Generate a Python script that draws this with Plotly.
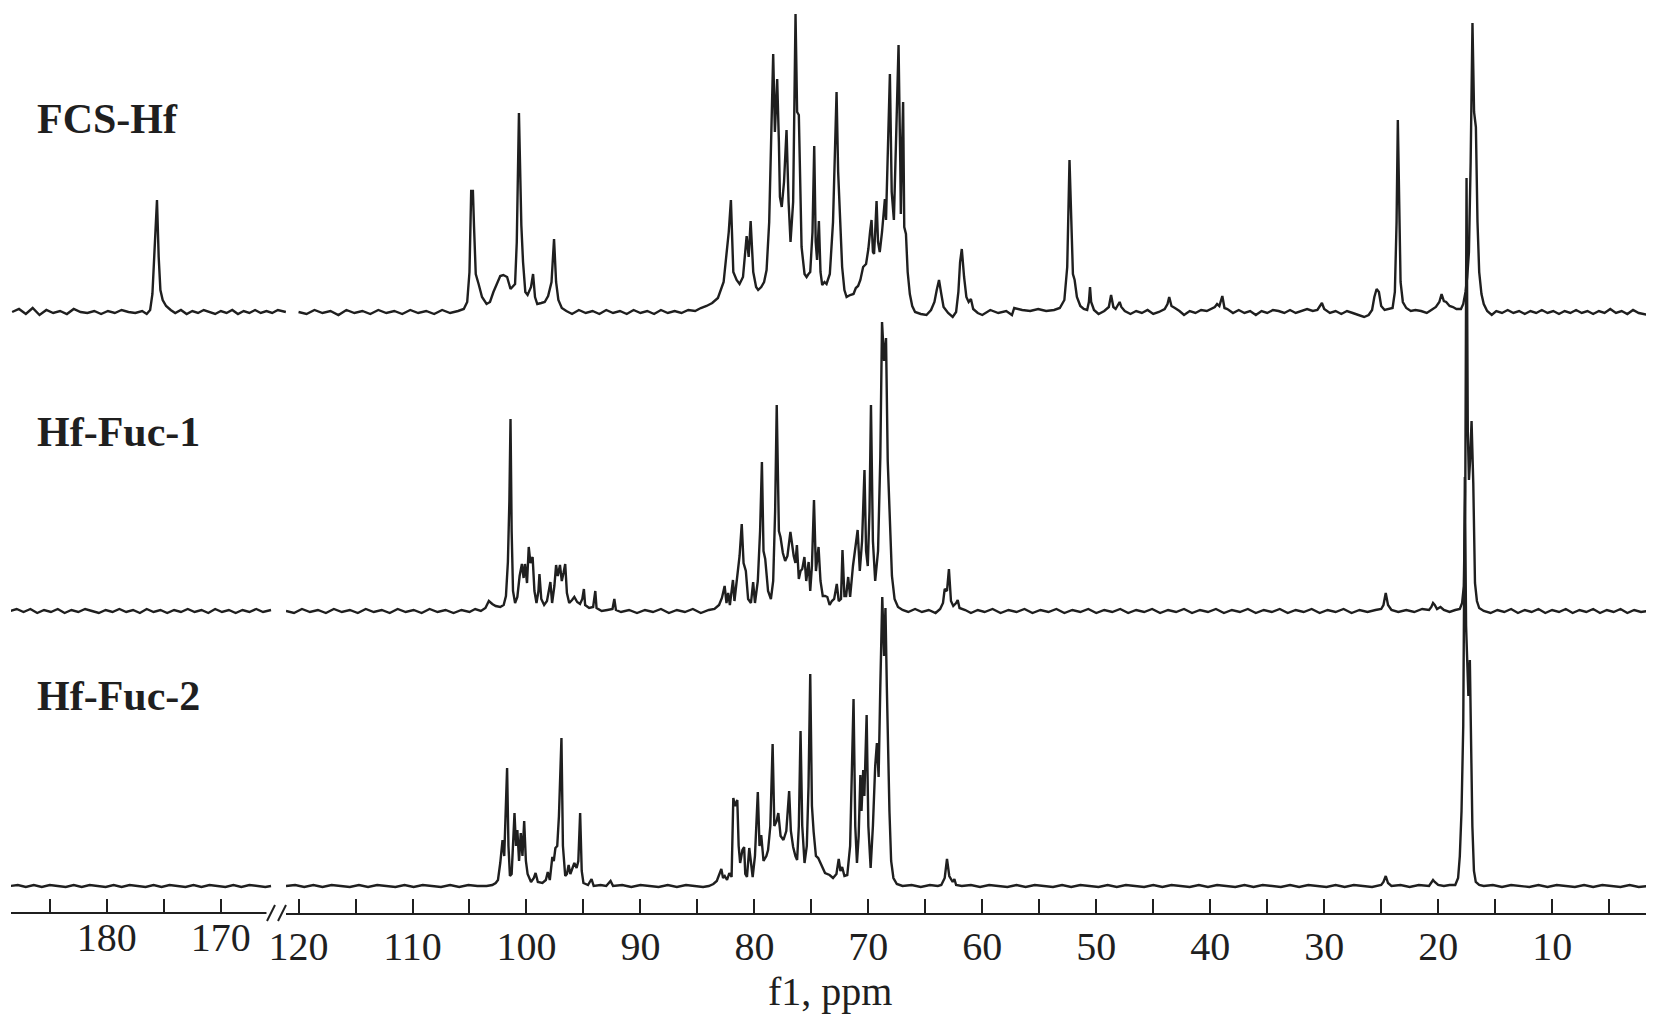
"""13C NMR spectra of FCS-Hf and its fucose fractions, broken ppm axis."""

import plotly.graph_objects as go

# peak/valley vertices: (ppm, intensity above baseline)
FCS_HF_LEFT = [
    (188.3, 0), (187.7, 3), (187.1, -2), (186.5, 4), (185.9, -3), (185.3, 2), (184.7, -1),
    (184.1, 1), (183.5, -2), (182.9, 3), (182.3, 0), (181.7, -1), (181.1, 1), (180.5, -2),
    (179.9, 1), (179.3, -1), (178.7, 2), (178.1, 0), (177.5, -1), (176.9, 1), (176.5, -2),
    (176.2, 2), (176.0, 18), (175.8, 70), (175.6, 112), (175.45, 55), (175.3, 22), (175.1, 12),
    (174.8, 6), (174.4, 2), (174.0, -1), (173.5, 2), (173.0, -2), (172.5, 1), (172.0, -1),
    (171.5, 2), (171.0, 0), (170.5, -2), (170.0, 1), (169.5, -1), (169.0, 2), (168.5, -2),
    (168.0, 1), (167.5, -1), (167.0, 2), (166.5, -1), (166.0, 1), (165.5, -1), (165.0, 2),
    (164.3, 0),
]
FCS_HF_RIGHT = [
    (120.0, 0), (119.3, -2), (118.6, 2), (117.9, -1), (117.2, 1), (116.5, -3), (115.8, 2),
    (115.1, -1), (114.4, 1), (113.7, -2), (113.0, 2), (112.3, -1), (111.6, 1), (110.9, -2),
    (110.2, 2), (109.5, -1), (108.8, 1), (108.1, -2), (107.4, 2), (106.7, -1), (106.0, 1),
    (105.5, 3), (105.2, 10), (105.0, 40), (104.85, 121), (104.7, 121), (104.6, 85),
    (104.45, 38), (104.2, 28), (103.9, 15), (103.5, 8), (103.2, 10), (102.9, 20), (102.6, 28),
    (102.3, 36), (102.03, 37), (101.7, 35), (101.4, 23), (101.2, 26), (101.0, 28),
    (100.85, 70), (100.66, 199), (100.45, 87), (100.3, 50), (100.1, 20), (99.9, 17),
    (99.6, 25), (99.42, 38), (99.25, 15), (99.05, 8), (98.7, 9), (98.4, 10), (98.1, 16),
    (97.8, 30), (97.58, 73), (97.4, 30), (97.2, 12), (96.9, 4), (96.5, 1), (96.0, -2),
    (95.4, 2), (94.8, -1), (94.2, 1), (93.6, -2), (93.0, 2), (92.4, -1), (91.8, 1),
    (91.2, -2), (90.6, 2), (90.0, -1), (89.4, 1), (88.8, -2), (88.2, 2), (87.6, -1),
    (87.0, 1), (86.4, -1), (85.8, 2), (85.2, 1), (84.7, 4), (84.2, 6), (83.7, 9), (83.2, 14),
    (82.7, 30), (82.25, 80), (82.06, 112), (81.85, 40), (81.56, 32), (81.3, 28), (81.0, 35),
    (80.8, 65), (80.68, 76), (80.5, 55), (80.33, 91), (80.1, 40), (79.85, 25), (79.67, 22),
    (79.4, 25), (79.15, 30), (78.93, 42), (78.7, 90), (78.5, 200), (78.35, 258), (78.2, 180),
    (78.0, 233), (77.85, 170), (77.76, 115), (77.6, 105), (77.4, 130), (77.18, 182),
    (77.0, 110), (76.83, 70), (76.6, 110), (76.39, 298), (76.25, 200), (76.1, 197),
    (76.0, 148), (75.86, 65), (75.6, 38), (75.42, 35), (75.25, 38), (75.1, 40), (74.9, 80),
    (74.75, 166), (74.62, 70), (74.5, 52), (74.34, 91), (74.2, 40), (74.05, 27), (73.85, 30),
    (73.67, 28), (73.5, 34), (73.38, 38), (73.1, 90), (72.9, 180), (72.79, 220), (72.65, 140),
    (72.5, 95), (72.3, 45), (72.1, 22), (71.91, 15), (71.6, 17), (71.3, 18), (71.1, 24),
    (70.9, 26), (70.7, 32), (70.46, 45), (70.2, 48), (70.0, 63), (69.85, 80), (69.72, 92),
    (69.6, 60), (69.5, 58), (69.4, 80), (69.28, 111), (69.15, 70), (69.0, 60), (68.8, 80),
    (68.65, 100), (68.55, 113), (68.45, 92), (68.3, 150), (68.11, 238), (67.95, 120),
    (67.76, 92), (67.55, 180), (67.35, 267), (67.2, 150), (67.15, 98), (67.05, 160),
    (66.95, 210), (66.85, 85), (66.7, 78), (66.55, 40), (66.36, 18), (66.15, 6), (65.9, 0),
    (65.4, -2), (64.9, -3), (64.5, 2), (64.2, 10), (64.0, 22), (63.8, 32), (63.6, 18),
    (63.4, 5), (63.0, -1), (62.6, -5), (62.3, 0), (62.1, 20), (61.95, 50), (61.8, 63),
    (61.6, 35), (61.4, 15), (61.2, 10), (61.0, 13), (60.8, 3), (60.4, -1), (60.0, -3),
    (59.3, 2), (58.6, -1), (57.9, 1), (57.4, -3), (57.2, 4), (56.5, 2), (55.8, 1), (55.1, 3),
    (54.4, 1), (53.7, 2), (53.2, 4), (52.8, 12), (52.55, 45), (52.35, 152), (52.2, 90),
    (52.05, 38), (51.9, 32), (51.7, 15), (51.4, 6), (51.1, 3), (50.8, 2), (50.65, 10),
    (50.55, 25), (50.45, 10), (50.2, 2), (49.8, -2), (49.3, 1), (48.9, 5), (48.7, 17),
    (48.5, 5), (48.3, 3), (47.95, 10), (47.8, 5), (47.5, 1), (47.0, -2), (46.5, 1),
    (46.0, -1), (45.5, 2), (45.0, -2), (44.5, 0), (44.0, 3), (43.75, 8), (43.6, 15),
    (43.4, 6), (43.1, 4), (42.7, 1), (42.3, -3), (41.8, 1), (41.3, -1), (40.8, 2), (40.3, 1),
    (39.9, 3), (39.6, 5), (39.4, 8), (39.2, 6), (38.94, 16), (38.75, 4), (38.5, 3),
    (38.0, -1), (37.5, 2), (37.0, -1), (36.5, 1), (36.0, -3), (35.5, 1), (35.0, -1),
    (34.5, 2), (34.0, 1), (33.5, -1), (33.0, 2), (32.5, -1), (32.0, 1), (31.5, 3), (31.0, 1),
    (30.6, 2), (30.2, 9), (30.0, 3), (29.5, -1), (29.0, 1), (28.5, -2), (28.0, 1), (27.5, -1),
    (27.0, -3), (26.5, -5), (26.1, -3), (25.8, 2), (25.6, 15), (25.4, 23), (25.2, 20),
    (25.0, 6), (24.7, 2), (24.3, 3), (24.0, 4), (23.8, 20), (23.65, 90), (23.54, 192),
    (23.42, 100), (23.3, 30), (23.1, 10), (22.8, 4), (22.4, 1), (22.0, 2), (21.5, 1),
    (21.0, -1), (20.6, 2), (20.2, 5), (19.9, 10), (19.7, 18), (19.5, 11), (19.3, 10),
    (19.0, 6), (18.7, 5), (18.4, 3), (18.0, 3), (17.8, 8), (17.6, 20), (17.45, 35),
    (17.3, 60), (17.15, 150), (16.99, 289), (16.85, 200), (16.69, 185), (16.55, 90),
    (16.4, 40), (16.2, 18), (16.0, 8), (15.7, 1), (15.3, -3), (14.9, 1), (14.4, -1),
    (13.9, 2), (13.4, -1), (12.9, 1), (12.4, -2), (11.9, 1), (11.4, -1), (10.9, 2),
    (10.4, -1), (9.9, 1), (9.4, -2), (8.9, 1), (8.4, -1), (7.9, 2), (7.4, -1), (6.9, 1),
    (6.4, -2), (5.9, 1), (5.4, -1), (4.9, 3), (4.4, -1), (3.9, 1), (3.4, -2), (2.9, 2),
    (2.4, -1), (1.6, -3),
]

HF_FUC1_LEFT = [
    (188.5, 0), (187.9, 2), (187.3, -1), (186.7, 2), (186.1, -2), (185.5, 1), (184.9, -1),
    (184.3, 2), (183.7, -2), (183.1, 1), (182.5, -1), (181.9, 2), (181.3, 0), (180.7, -2),
    (180.1, 1), (179.5, -1), (178.9, 2), (178.3, -1), (177.7, 1), (177.1, -2), (176.5, 2),
    (175.9, -1), (175.3, 1), (174.7, -2), (174.1, 1), (173.5, -1), (172.9, 2), (172.3, -1),
    (171.7, 1), (171.1, -2), (170.5, 2), (169.9, -1), (169.3, 1), (168.7, -2), (168.1, 1),
    (167.5, -1), (166.9, 2), (166.3, -1), (165.6, 1),
]
HF_FUC1_RIGHT = [
    (121.1, 0), (120.4, -2), (119.7, 2), (119.0, -1), (118.3, 1), (117.6, -2), (116.9, 2),
    (116.2, -1), (115.5, 1), (114.8, -2), (114.1, 2), (113.4, -1), (112.7, 1), (112.0, -2),
    (111.3, 2), (110.6, -1), (109.9, 1), (109.2, -2), (108.5, 2), (107.8, -1), (107.1, 1),
    (106.4, -2), (105.7, 1), (105.0, -1), (104.5, 2), (104.0, 0), (103.6, 3), (103.3, 10),
    (103.0, 7), (102.7, 5), (102.3, 4), (102.0, 6), (101.8, 15), (101.63, 49), (101.5, 110),
    (101.4, 192), (101.3, 80), (101.18, 20), (101.0, 8), (100.8, 14), (100.6, 35),
    (100.4, 47), (100.25, 33), (100.13, 47), (99.95, 28), (99.8, 64), (99.65, 48),
    (99.46, 54), (99.3, 20), (99.12, 8), (98.95, 20), (98.86, 37), (98.7, 12), (98.45, 6),
    (98.2, 10), (98.0, 22), (97.9, 29), (97.75, 8), (97.55, 25), (97.4, 46), (97.25, 35),
    (97.06, 46), (96.9, 30), (96.75, 38), (96.6, 47), (96.45, 18), (96.25, 8), (96.0, 11),
    (95.8, 14), (95.55, 9), (95.3, 7), (95.1, 12), (94.96, 22), (94.85, 6), (94.5, 3),
    (94.15, 4), (93.96, 20), (93.85, 3), (93.4, 0), (92.9, 1), (92.45, 2), (92.29, 12),
    (92.15, 1), (91.7, -1), (91.0, 1), (90.3, -2), (89.6, 1), (88.9, -1), (88.2, 2),
    (87.5, -2), (86.8, 1), (86.1, -1), (85.4, 2), (84.7, -2), (84.0, 1), (83.5, 2),
    (83.1, 6), (82.85, 13), (82.61, 25), (82.45, 8), (82.3, 18), (82.15, 6), (81.88, 31),
    (81.75, 10), (81.55, 30), (81.3, 55), (81.11, 87), (80.95, 48), (80.75, 40), (80.55, 12),
    (80.3, 8), (80.11, 29), (79.95, 8), (79.7, 30), (79.5, 80), (79.34, 149), (79.2, 60),
    (79.05, 52), (78.8, 20), (78.55, 12), (78.35, 30), (78.18, 100), (78.04, 206),
    (77.85, 80), (77.71, 74), (77.5, 58), (77.3, 50), (77.1, 55), (76.84, 79), (76.7, 65),
    (76.55, 55), (76.4, 48), (76.27, 66), (76.1, 32), (75.95, 40), (75.8, 42), (75.61, 54),
    (75.45, 30), (75.24, 49), (75.1, 20), (74.95, 45), (74.77, 111), (74.6, 40), (74.37, 64),
    (74.2, 30), (74.0, 15), (73.8, 15), (73.6, 14), (73.4, 6), (73.2, 10), (73.0, 12),
    (72.77, 27), (72.6, 10), (72.4, 12), (72.27, 61), (72.1, 15), (71.95, 15), (71.77, 34),
    (71.6, 14), (71.35, 45), (71.1, 65), (70.94, 81), (70.75, 40), (70.55, 70), (70.34, 141),
    (70.2, 60), (70.05, 45), (69.9, 100), (69.77, 206), (69.6, 70), (69.4, 30), (69.15, 60),
    (68.95, 154), (68.8, 289), (68.62, 250), (68.45, 273), (68.3, 150), (68.12, 90),
    (67.93, 35), (67.7, 12), (67.4, 4), (67.0, 1), (66.5, -1), (65.9, 2), (65.3, -1),
    (64.7, 1), (64.1, -2), (63.7, 2), (63.45, 8), (63.3, 22), (63.1, 20), (62.93, 42),
    (62.75, 10), (62.55, 5), (62.3, 8), (62.16, 11), (62.0, 3), (61.5, 1), (61.0, -2),
    (60.4, 1), (59.8, -1), (59.1, 2), (58.4, -2), (57.7, 1), (57.0, -1), (56.3, 2),
    (55.6, -2), (54.9, 1), (54.2, -1), (53.5, 2), (52.8, -2), (52.1, 1), (51.4, -1),
    (50.7, 2), (50.0, -2), (49.3, 1), (48.6, -1), (47.9, 2), (47.2, -2), (46.5, 1),
    (45.8, -1), (45.1, 2), (44.4, -2), (43.7, 1), (43.0, -1), (42.3, 2), (41.6, -2),
    (40.9, 1), (40.2, -1), (39.5, 2), (38.8, -2), (38.1, 1), (37.4, -1), (36.7, 2),
    (36.0, -2), (35.3, 1), (34.6, -1), (33.9, 2), (33.2, -2), (32.5, 1), (31.8, -1),
    (31.1, 2), (30.4, -2), (29.7, 1), (29.0, -1), (28.3, 2), (27.6, -2), (26.9, 1),
    (26.2, -1), (25.5, 1), (25.0, 2), (24.8, 6), (24.6, 18), (24.4, 6), (24.1, 1),
    (23.5, -1), (22.8, 1), (22.1, -1), (21.4, 2), (20.8, 1), (20.6, 4), (20.45, 8),
    (20.3, 6), (20.1, 2), (19.8, 4), (19.5, 1), (19.0, -1), (18.5, 1), (18.1, 2), (17.9, 8),
    (17.75, 25), (17.62, 120), (17.51, 433), (17.4, 180), (17.3, 131), (17.2, 150),
    (17.07, 190), (16.92, 128), (16.77, 28), (16.6, 10), (16.4, 3), (16.0, 0), (15.4, -2),
    (14.8, 1), (14.2, -1), (13.6, 2), (13.0, -2), (12.4, 1), (11.8, -1), (11.2, 2),
    (10.6, -2), (10.0, 1), (9.4, -1), (8.8, 2), (8.2, -2), (7.6, 1), (7.0, -1), (6.4, 2),
    (5.8, -2), (5.2, 1), (4.6, -1), (4.0, 2), (3.4, -2), (2.8, 1), (2.2, -1), (1.6, 0),
]

HF_FUC2_LEFT = [
    (188.5, 0), (187.8, 1), (187.1, -1), (186.4, 1), (185.7, -1), (185.0, 1), (184.3, 0),
    (183.6, -1), (182.9, 1), (182.2, -1), (181.5, 1), (180.8, 0), (180.1, -1), (179.4, 1),
    (178.7, -1), (178.0, 1), (177.3, 0), (176.6, -1), (175.9, 1), (175.2, -1), (174.5, 1),
    (173.8, 0), (173.1, -1), (172.4, 1), (171.7, -1), (171.0, 1), (170.3, 0), (169.6, -1),
    (168.9, 1), (168.2, -1), (167.5, 1), (166.8, 0), (166.1, -1), (165.6, 0),
]
HF_FUC2_RIGHT = [
    (121.1, 0), (120.3, 1), (119.5, -1), (118.7, 1), (117.9, -1), (117.1, 1), (116.3, 0),
    (115.5, -1), (114.7, 1), (113.9, -1), (113.1, 1), (112.3, 0), (111.5, -1), (110.7, 1),
    (109.9, -1), (109.1, 1), (108.3, 0), (107.5, -1), (106.7, 1), (105.9, -1), (105.1, 1),
    (104.3, 0), (103.5, 0), (103.0, 1), (102.7, 3), (102.5, 6), (102.3, 23), (102.1, 46),
    (101.95, 30), (101.85, 60), (101.7, 118), (101.58, 40), (101.45, 10), (101.3, 12),
    (101.15, 50), (101.05, 73), (100.92, 40), (100.8, 56), (100.65, 25), (100.5, 53),
    (100.35, 30), (100.2, 65), (100.05, 25), (99.9, 12), (99.6, 4), (99.35, 8), (99.2, 13),
    (99.0, 4), (98.6, 3), (98.3, 6), (98.13, 14), (97.95, 6), (97.73, 29), (97.6, 25),
    (97.46, 38), (97.3, 40), (97.15, 70), (96.93, 148), (96.8, 40), (96.6, 10), (96.45, 12),
    (96.3, 21), (96.15, 12), (95.95, 18), (95.8, 23), (95.6, 18), (95.45, 25), (95.29, 73),
    (95.15, 15), (95.0, 3), (94.6, 1), (94.29, 7), (94.1, 0), (93.5, 1), (93.0, 0),
    (92.62, 5), (92.4, 0), (91.6, 1), (90.8, -1), (90.0, 1), (89.2, 0), (88.4, -1),
    (87.6, 1), (86.8, -1), (86.0, 1), (85.2, 0), (84.5, -1), (84.0, 0), (83.6, 2), (83.3, 5),
    (82.9, 17), (82.75, 8), (82.6, 10), (82.4, 6), (82.2, 13), (82.0, 9), (81.85, 88),
    (81.7, 80), (81.5, 86), (81.38, 40), (81.25, 23), (81.05, 36), (80.9, 39), (80.8, 12),
    (80.65, 9), (80.45, 38), (80.3, 20), (80.15, 9), (79.95, 30), (79.7, 94), (79.55, 40),
    (79.4, 51), (79.2, 25), (78.95, 30), (78.8, 36), (78.6, 60), (78.4, 142), (78.25, 60),
    (78.05, 65), (77.9, 73), (77.7, 50), (77.45, 46), (77.2, 55), (76.95, 95), (76.8, 55),
    (76.6, 39), (76.4, 30), (76.25, 26), (76.1, 60), (75.95, 155), (75.8, 60), (75.6, 23),
    (75.4, 40), (75.25, 100), (75.1, 212), (74.95, 80), (74.8, 54), (74.6, 30), (74.4, 28),
    (74.1, 20), (73.8, 13), (73.4, 11), (73.1, 8), (72.8, 12), (72.6, 27), (72.45, 15),
    (72.3, 19), (72.1, 10), (71.85, 11), (71.6, 40), (71.45, 120), (71.3, 187), (71.15, 60),
    (71.0, 23), (70.85, 50), (70.7, 111), (70.6, 75), (70.45, 116), (70.35, 90),
    (70.15, 171), (70.0, 60), (69.8, 18), (69.6, 60), (69.4, 120), (69.25, 143), (69.1, 109),
    (68.95, 200), (68.78, 289), (68.62, 230), (68.5, 278), (68.38, 200), (68.28, 143),
    (68.15, 75), (68.0, 25), (67.8, 8), (67.5, 2), (67.0, 0), (66.2, 1), (65.4, -1),
    (64.6, 1), (63.9, 0), (63.6, 1), (63.3, 8), (63.1, 27), (62.9, 10), (62.6, 4),
    (62.45, 7), (62.3, 1), (61.8, 0), (61.0, 1), (60.2, -1), (59.4, 1), (58.6, 0),
    (57.8, -1), (57.0, 1), (56.2, -1), (55.4, 1), (54.6, 0), (53.8, -1), (53.0, 1),
    (52.2, -1), (51.4, 1), (50.6, 0), (49.8, -1), (49.0, 1), (48.2, -1), (47.4, 1),
    (46.6, 0), (45.8, -1), (45.0, 1), (44.2, -1), (43.4, 1), (42.6, 0), (41.8, -1),
    (41.0, 1), (40.2, -1), (39.4, 1), (38.6, 0), (37.8, -1), (37.0, 1), (36.2, -1),
    (35.4, 1), (34.6, 0), (33.8, -1), (33.0, 1), (32.2, -1), (31.4, 1), (30.6, 0),
    (29.8, -1), (29.0, 1), (28.2, -1), (27.4, 1), (26.6, 0), (25.8, -1), (25.0, 1),
    (24.8, 4), (24.6, 10), (24.4, 3), (24.1, 0), (23.3, 1), (22.5, -1), (21.7, 1),
    (20.8, 0), (20.6, 3), (20.45, 6), (20.3, 4), (20.0, 1), (19.5, 0), (19.0, 1), (18.5, 1),
    (18.25, 8), (18.1, 30), (17.95, 75), (17.8, 160), (17.66, 409), (17.55, 260),
    (17.45, 233), (17.35, 190), (17.22, 226), (17.1, 120), (17.0, 60), (16.86, 15),
    (16.7, 4), (16.4, 1), (16.0, 0), (15.2, 1), (14.4, -1), (13.6, 1), (12.8, 0),
    (12.0, -1), (11.2, 1), (10.4, -1), (9.6, 1), (8.8, 0), (8.0, -1), (7.2, 1), (6.4, -1),
    (5.6, 1), (4.8, 0), (4.0, -1), (3.2, 1), (2.4, -1), (1.6, 0),
]

LABELS = ["FCS-Hf", "Hf-Fuc-1", "Hf-Fuc-2"]
SEGMENTS = [
    (FCS_HF_LEFT, FCS_HF_RIGHT),
    (HF_FUC1_LEFT, HF_FUC1_RIGHT),
    (HF_FUC2_LEFT, HF_FUC2_RIGHT),
]

# stacking: baseline of each spectrum (px above the ppm axis)
OFFSETS = [601, 302, 27]

# page geometry; the page body adds an 8 px margin on top/left of the figure
PAD = 8
W = 1654
H = 1017 - PAD
AXIS_Y = 913            # axis line, in page px
PLOT_H = AXIS_Y - PAD   # plot area runs from the figure top down to the axis
LABEL_PX = [119, 432, 696]

INK = "#1f1f1f"
SERIF = "Liberation Serif, Times New Roman, serif"


def px_x(x):
    return (x - PAD) / W


def px_y(y):
    return (AXIS_Y - y) / PLOT_H


fig = go.Figure()
for (left, right), base in zip(SEGMENTS, OFFSETS):
    for seg, xa in ((left, "x"), (right, "x2")):
        fig.add_trace(go.Scatter(
            x=[p for p, _ in seg],
            y=[base + v for _, v in seg],
            xaxis=xa, yaxis="y",
            mode="lines",
            line=dict(color=INK, width=2.4),
            hoverinfo="skip",
            showlegend=False,
        ))

tick_style = dict(
    ticks="inside", ticklen=14, tickwidth=2, tickcolor=INK,
    showgrid=False, zeroline=False, automargin=False,
    tickfont=dict(family=SERIF, size=40, color=INK),
    ticklabelstandoff=-3,
)

fig.update_layout(
    width=W, height=H, autosize=False,
    margin=dict(l=0, r=0, t=0, b=H - PLOT_H, pad=0, autoexpand=False),
    paper_bgcolor="white", plot_bgcolor="white",
    xaxis=dict(
        domain=[px_x(11), px_x(287)], range=[188.4, 164.2], anchor="y",
        showline=False, tickmode="array", tickvals=[180, 170],
        minor=dict(tickmode="array", tickvals=[185, 175], ticks="inside",
                   ticklen=14, tickwidth=2, tickcolor=INK, showgrid=False),
        **tick_style,
    ),
    xaxis2=dict(
        domain=[px_x(286), px_x(1649)], range=[121.1, 1.5], anchor="y",
        showline=True, linecolor=INK, linewidth=2,
        tick0=0, dtick=10,
        minor=dict(tick0=0, dtick=5, ticks="inside", ticklen=14,
                   tickwidth=2, tickcolor=INK, showgrid=False),
        **tick_style,
    ),
    yaxis=dict(range=[0, PLOT_H], visible=False, fixedrange=True, automargin=False),
)

# left part of the axis line stops at the break
fig.add_shape(type="line", xref="x", yref="paper", x0=188.4, x1=166.0, y0=0, y1=0,
              line=dict(color=INK, width=2))
# the "//" break marks
for x0 in (267, 278):
    fig.add_shape(type="line", xref="paper", yref="paper",
                  x0=px_x(x0), x1=px_x(x0 + 8), y0=px_y(AXIS_Y + 8), y1=px_y(AXIS_Y - 8),
                  line=dict(color=INK, width=2))

for name, ly in zip(LABELS, LABEL_PX):
    fig.add_annotation(
        text=name, xref="paper", yref="paper", x=px_x(35), y=px_y(ly),
        xanchor="left", yanchor="middle", showarrow=False,
        font=dict(family=SERIF, size=42, color=INK, weight="bold"),
    )

fig.add_annotation(
    text="f1, ppm", xref="paper", yref="paper", x=px_x(830), y=px_y(991),
    xanchor="center", yanchor="middle", showarrow=False,
    font=dict(family=SERIF, size=40, color=INK),
)

fig.write_html("out.html", config={"responsive": False, "displayModeBar": False},
               include_plotlyjs=True, full_html=True)
